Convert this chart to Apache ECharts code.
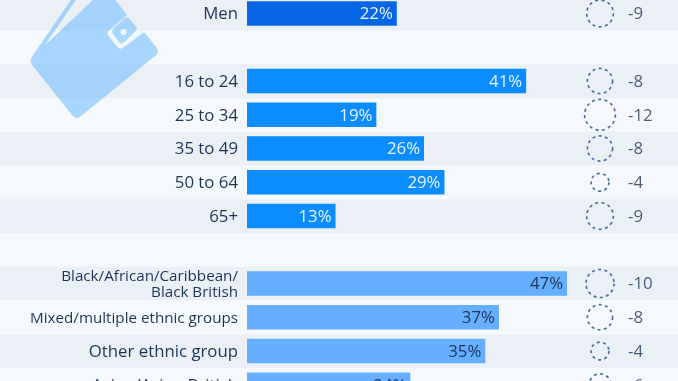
<!DOCTYPE html>
<html><head><meta charset="utf-8">
<style>html,body{margin:0;padding:0;background:#f5f9fd;overflow:hidden}#c{width:678px;height:381px}</style>
<script src="https://cdn.jsdelivr.net/npm/echarts@6/dist/echarts.min.js"></script>
</head><body><div id="c"></div>
<script>
const categories = ['Men','','16 to 24','25 to 34','35 to 49','50 to 64','65+','','Black/African/Caribbean/\nBlack British','Mixed/multiple ethnic groups','Other ethnic group','Asian/Asian British'];
const shares = [22,null,41,19,26,29,13,null,47,37,35,24];
const changes = [-9,null,-8,-12,-8,-4,-9,null,-10,-8,-4,-6];
const groups = ['gender',null,'age','age','age','age','age',null,'ethnic','ethnic','ethnic','ethnic'];
const barColors = {gender:'#0666e5',age:'#0b8cff',ethnic:'#66aeff'};
const labelColors = {gender:'#e8f3ff',age:'#e8f3ff',ethnic:'#1c3557'};
const INK='#1c3557';
const FONT='"Open Sans"';
const rowTop=-3.375, rowsH=405;
const yBase={type:'category',inverse:true,data:categories,axisLine:{show:false},axisTick:{show:false}};
function rounded(pts){
  const out=[];const n=pts.length;
  pts.forEach((p,i)=>{
    const r=p[2]||0;
    if(!r){out.push([p[0],p[1]]);return;}
    const a=pts[(i+n-1)%n],b=pts[(i+1)%n];
    const la=Math.hypot(a[0]-p[0],a[1]-p[1]),lb=Math.hypot(b[0]-p[0],b[1]-p[1]);
    const s=[p[0]+(a[0]-p[0])*r/la,p[1]+(a[1]-p[1])*r/la],e=[p[0]+(b[0]-p[0])*r/lb,p[1]+(b[1]-p[1])*r/lb];
    for(let t=0;t<=1.001;t+=0.2){const u=1-t;out.push([u*u*s[0]+2*u*t*p[0]+t*t*e[0],u*u*s[1]+2*u*t*p[1]+t*t*e[1]]);}
  });
  return out;
}
const walletBody=rounded([[29,61,6],[76,120,6],[160,52,6],[144,32,2],[120,50,4],[106,33,4],[127,15,0],[113,-3,0],[96,-3,0],[45,45,0],[78,-3,0],[73,-3,0]]);
const walletInner=rounded([[111,31,4],[121,45,4],[138,29,4],[127,16,4]]);
const chart=echarts.init(document.getElementById('c'),null,{renderer:'canvas'});
const gridBase={top:rowTop,height:rowsH,outerBoundsMode:'none'};
chart.setOption({
  animation:false,
  backgroundColor:'#f5f9fd',
  grid:[
    Object.assign({left:0,width:678},gridBase),
    Object.assign({left:247,width:431},gridBase),
    Object.assign({left:586,width:56},gridBase)
  ],
  xAxis:[
    {gridIndex:0,type:'value',min:0,max:1,show:false},
    {gridIndex:1,type:'value',min:0,max:63.3,show:false},
    {gridIndex:2,type:'category',data:['circle','delta'],show:false}
  ],
  yAxis:[
    Object.assign({},yBase,{gridIndex:0,axisLabel:{show:false},splitLine:{show:false},
      splitArea:{show:true,interval:0,areaStyle:{color:['#ebf0f7','#f5f9fd']}}}),
    Object.assign({},yBase,{gridIndex:1,axisLabel:{show:true,interval:0,margin:9,color:INK,fontFamily:FONT,fontSize:16.8,lineHeight:17,align:'right',hideOverlap:false,padding:[2,0,0,0],
      formatter:v=>v.length>24&&!v.includes('\n')?'{s|'+v+'}':(v.includes('\n')?v.split('\n').map(p=>'{t|'+p+'}').join('\n'):v),
      rich:{s:{fontSize:15.2,fontFamily:FONT,color:INK},t:{fontSize:15.2,lineHeight:16.5,fontFamily:FONT,color:INK}}}}),
    Object.assign({},yBase,{gridIndex:2,show:false})
  ],
  series:[
    {type:'bar',xAxisIndex:1,yAxisIndex:1,barWidth:24.5,z:3,
     data:shares.map((v,i)=>v==null?null:{value:v,itemStyle:{color:barColors[groups[i]]},
       label:{color:labelColors[groups[i]]}}),
     label:{show:true,position:'insideRight',distance:4,offset:[0,1],fontFamily:FONT,fontSize:16.8,formatter:p=>p.value+'%'}},
    {type:'scatter',xAxisIndex:2,yAxisIndex:2,z:3,
     data:changes.map((v,i)=>v==null?null:['circle',i,v]).filter(Boolean),
     symbolSize:d=>8.9*Math.sqrt(Math.abs(d[2])),
     itemStyle:{color:'rgba(0,0,0,0)',borderColor:'#466a9f',borderWidth:1.6,borderType:[3,3.4],opacity:1}},
    {type:'scatter',xAxisIndex:2,yAxisIndex:2,z:3,symbolSize:0,
     data:changes.map((v,i)=>v==null?null:['delta',i,v]).filter(Boolean),
     label:{show:true,position:'right',distance:0,offset:[0,1],color:INK,fontFamily:FONT,fontSize:16.8,formatter:p=>String(p.value[2])}}
  ],
  graphic:[
    {type:'polygon',shape:{points:walletBody},style:{fill:'rgba(117,190,252,0.6)'},silent:true,z:10},
    {type:'polygon',shape:{points:walletInner},style:{fill:'rgba(117,190,252,0.6)'},silent:true,z:10},
    {type:'circle',shape:{cx:123.5,cy:32,r:3},style:{fill:'#eef6fd'},silent:true,z:11}
  ]
});
</script></body></html>
